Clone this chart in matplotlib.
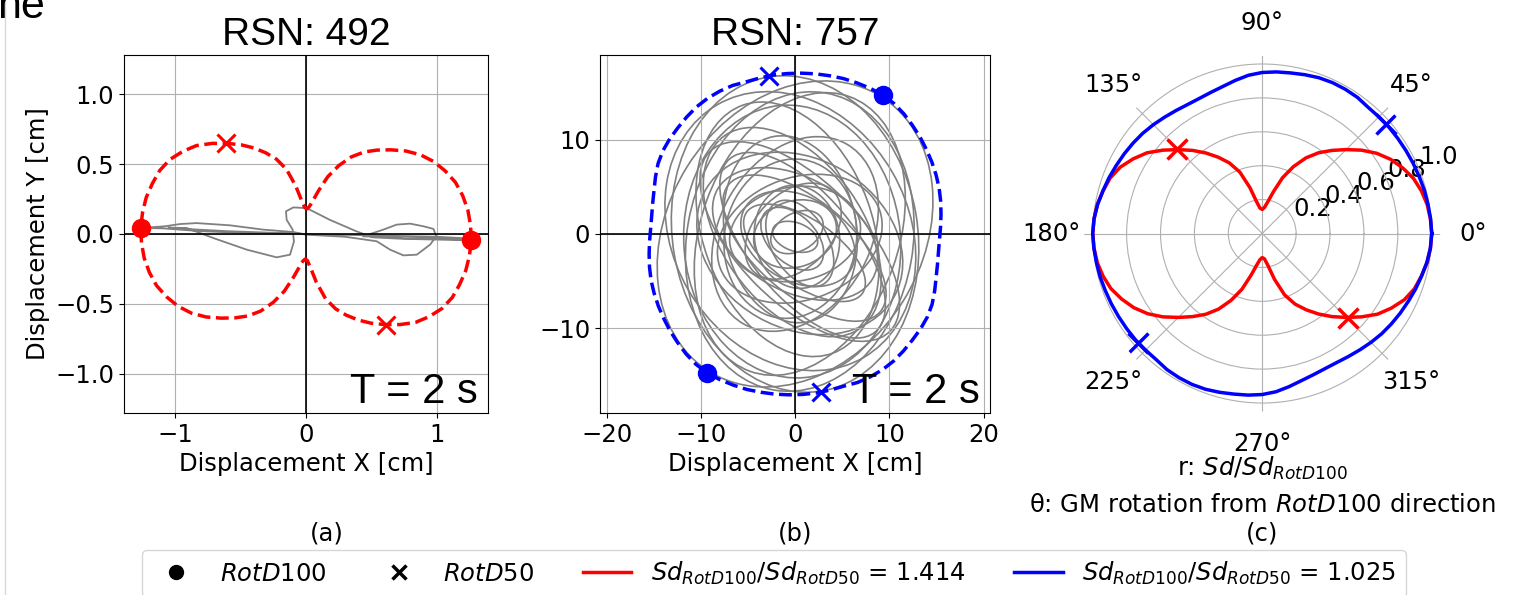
import numpy as np
import matplotlib.pyplot as plt
from matplotlib.patches import Ellipse
from matplotlib.lines import Line2D

plt.rcParams['font.family'] = ['DejaVu Sans']

# Sd(theta)/Sd_RotD100 read every 5 deg from 0 to 175 deg (the curve repeats every 180 deg)
theta_deg = np.arange(0, 180, 5)
ratio_492 = [1.00, 0.996, 0.988, 0.972, 0.95, 0.915, 0.875, 0.825, 0.765, 0.70,
             0.64, 0.582, 0.515, 0.435, 0.35, 0.255, 0.19, 0.155, 0.142, 0.15,
             0.19, 0.28, 0.385, 0.46, 0.52, 0.58, 0.64, 0.70, 0.765, 0.83,
             0.88, 0.925, 0.955, 0.972, 0.988, 0.996]
ratio_757 = [1.00, 0.997, 0.993, 0.99, 0.985, 0.982, 0.979, 0.977, 0.976, 0.973,
             0.972, 0.98, 0.982, 0.982, 0.978, 0.97, 0.962, 0.957, 0.95, 0.937,
             0.917, 0.898, 0.886, 0.879, 0.879, 0.886, 0.896, 0.908, 0.92, 0.93,
             0.94, 0.95, 0.962, 0.973, 0.986, 0.996]

# RotD100 amplitude [cm], RotD100 direction [deg], RotD100/RotD50, RotD50 angle in polar frame [deg]
rotd100_492, dir_492, rot_ratio_492, rot50_ang_492 = 1.263, -2.1, 1.414, 135.5
rotd100_757, dir_757, rot_ratio_757, rot50_ang_757 = 17.45, 57.8, 1.025, 41.5

# displacement orbit of RSN 492 [cm]
orbit_x_492 = [0.0, -0.3, -0.6, -0.9, -1.05, -0.912, -0.708, -0.453, -0.224, -0.122,
               -0.092, -0.102, -0.148, -0.153, -0.097, 0.005, 0.18, 0.385, 0.51, 0.75,
               1.0, 1.26, 1.1, 0.95, 0.75, 0.6, 0.436, 0.59, 0.693, 0.795,
               0.897, 0.974, 0.994, 0.948, 0.846, 0.744, 0.642, 0.54, 0.3, 0.0,
               -0.097, -0.326, -0.581, -0.836, -0.963, -1.078, -1.26, -1.09, -0.8, -0.4,
               0.0, 0.5, 1.0, 1.2]
orbit_y_492 = [0.0, 0.01, 0.02, 0.035, 0.045, 0.043, -0.029, -0.112, -0.167, -0.148,
               -0.053, 0.031, 0.102, 0.162, 0.19, 0.185, 0.102, 0.019, -0.024, -0.035,
               -0.04, -0.046, -0.035, -0.03, -0.03, -0.02, -0.017, 0.031, 0.067, 0.074,
               0.055, 0.036, -0.017, -0.076, -0.148, -0.153, -0.112, -0.052, -0.02, -0.005,
               0.014, 0.031, 0.062, 0.078, 0.071, 0.055, 0.043, 0.04, 0.02, 0.005,
               0.0, -0.01, -0.02, -0.03]

# orbit loops of RSN 757 [cm]: centre, semi-axes, tilt [deg]
loop_cx = [0.0, 0.0, 0.5, -0.5, 0.5, -0.3, 0.5, -0.3, 0.5, 0.0, -0.5, 0.5, 1.0,
           -0.5, 0.0, 0.0, 0.3, -0.2, 0.2, 0.5, 0.0, -0.3, 0.2, 0.0, 1.0, -0.8, 0.8]
loop_cy = [0.0, 0.0, -0.8, 0.3, 0.0, -0.8, -0.8, 0.2, -1.0, 0.0, 0.5, -0.5, -1.5,
           -0.5, 0.0, 0.0, -0.5, 0.3, -0.3, -1.0, 0.0, -0.5, 0.2, -0.3, -2.0, 0.5, -1.2]
loop_a = [17.2, 16.9, 16.0, 15.5, 15.5, 14.5, 13.5, 12.5, 11.5, 11.0, 10.0, 9.0, 10.5,
          8.5, 9.5, 7.0, 6.5, 6.0, 5.5, 5.0, 4.5, 4.0, 3.0, 2.5, 7.5, 14.0, 12.0]
loop_b = [13.5, 13.0, 12.0, 12.5, 10.5, 11.5, 6.5, 7.5, 9.0, 8.0, 7.0, 6.5, 5.0,
          7.0, 6.0, 5.0, 4.5, 4.0, 4.5, 3.0, 3.5, 2.5, 2.0, 1.5, 3.5, 9.0, 5.5]
loop_tilt = [58, 100, 80, 120, 70, 95, -45, -55, -30, 60, 100, 20, -40,
             80, 150, 10, -30, 45, 100, -60, 20, -45, 30, -20, -35, 110, -50]

dpi = 100
fig = plt.figure(figsize=(1516 / dpi, 595 / dpi), dpi=dpi)
ax1 = fig.add_axes([0.0818, 0.3059, 0.2401, 0.6017])
ax2 = fig.add_axes([0.3958, 0.3059, 0.2573, 0.6017])
ax3 = fig.add_axes([0.7152, 0.3084, 0.2348, 0.5983], projection='polar')

fs = 17.5
th = np.deg2rad(np.r_[theta_deg, theta_deg + 180, 360])
r_492 = np.array(ratio_492 + ratio_492 + ratio_492[:1])
r_757 = np.array(ratio_757 + ratio_757 + ratio_757[:1])


def orbit_panel(ax, r, rotd100, direction, rot_ratio, rot50_ang, color, lim_x, lim_y):
    ang = th + np.deg2rad(direction)
    ax.plot(rotd100 * r * np.cos(ang), rotd100 * r * np.sin(ang), '--', color=color, lw=2.5, zorder=4)
    d100 = np.deg2rad([direction, direction + 180])
    ax.plot(rotd100 * np.cos(d100), rotd100 * np.sin(d100), 'o', color=color, ms=13, zorder=5)
    d50 = np.deg2rad([rot50_ang + direction, rot50_ang + direction + 180])
    r50 = rotd100 / rot_ratio
    ax.plot(r50 * np.cos(d50), r50 * np.sin(d50), 'x', color=color, ms=13, mew=2.2, zorder=5)
    ax.axhline(0, color='k', lw=1.2)
    ax.axvline(0, color='k', lw=1.2)
    ax.grid(True, color='#b0b0b0')
    ax.set_xlim(-lim_x, lim_x)
    ax.set_ylim(-lim_y, lim_y)
    ax.tick_params(labelsize=fs)
    ax.set_xlabel('Displacement X [cm]', fontsize=fs)
    ax.text(0.973, 0.028, 'T = 2 s', transform=ax.transAxes, ha='right', va='baseline',
            fontsize=30, family='Liberation Sans', zorder=6)


# (a) RSN 492
ax1.plot(orbit_x_492, orbit_y_492, color='grey', lw=1.3)
orbit_panel(ax1, r_492, rotd100_492, dir_492, rot_ratio_492, rot50_ang_492, 'red', 1.39, 1.28)
ax1.set_xticks([-1, 0, 1])
ax1.set_yticks([-1.0, -0.5, 0.0, 0.5, 1.0])
ax1.set_ylabel('Displacement Y [cm]', fontsize=fs)
ax1.set_title('RSN: 492', fontsize=28, family='Liberation Sans', pad=7)

# (b) RSN 757
for cx, cy, a, b, t in zip(loop_cx, loop_cy, loop_a, loop_b, loop_tilt):
    ax2.add_patch(Ellipse((cx, cy), 2 * a, 2 * b, angle=t, fill=False, ec='grey', lw=1.2))
orbit_panel(ax2, r_757, rotd100_757, dir_757, rot_ratio_757, rot50_ang_757, 'blue', 20.7, 19.0)
ax2.set_xticks([-20, -10, 0, 10, 20])
ax2.set_yticks([-10, 0, 10])
ax2.set_title('RSN: 757', fontsize=28, family='Liberation Sans', pad=7)

# (c) polar
ax3.plot(th, r_492, color='red', lw=2.5)
ax3.plot(th, r_757, color='blue', lw=2.5)
for ang, rr, c in [(rot50_ang_492, 1 / rot_ratio_492, 'red'), (rot50_ang_757, 1 / rot_ratio_757, 'blue')]:
    ax3.plot(np.deg2rad([ang, ang + 180]), [rr, rr], 'x', color=c, ms=14, mew=2.5)
ax3.set_rlim(0, 1.05)
ax3.set_rticks([0.2, 0.4, 0.6, 0.8, 1.0])
ax3.set_thetagrids(range(0, 360, 45))
ax3.spines['polar'].set_visible(False)
ax3.grid(True, color='#b0b0b0')
ax3.tick_params(labelsize=fs)
ax3.tick_params(axis='x', pad=13)

fig.text(1262 / 1516, 1 - 468 / 595, 'r: $Sd/Sd_{RotD100}$', ha='center', va='center', fontsize=fs)
fig.text(1262 / 1516, 1 - 505 / 595, 'θ: GM rotation from $RotD$100 direction', ha='center', va='center', fontsize=fs)
for x, s in [(327, '(a)'), (795, '(b)'), (1262, '(c)')]:
    fig.text(x / 1516, 1 - 533 / 595, s, ha='center', va='center', fontsize=fs)

handles = [
    Line2D([], [], marker='o', color='k', ls='none', ms=10, label='$RotD$100'),
    Line2D([], [], marker='x', color='k', ls='none', ms=10, mew=2.5, label='$RotD$50'),
    Line2D([], [], color='red', lw=2.5, label='$Sd_{RotD100}/Sd_{RotD50}$ = %.3f' % rot_ratio_492),
    Line2D([], [], color='blue', lw=2.5, label='$Sd_{RotD100}/Sd_{RotD50}$ = %.3f' % rot_ratio_757),
]
fig.legend(handles=handles, loc='upper center', bbox_to_anchor=(774 / 1516, 1 - 538 / 595), ncol=4,
           fontsize=fs, frameon=True)

# clipped text and page border from the source document
fig.text(-0.002, 1 - 18 / 595, 'ne', fontsize=31, family='Liberation Sans', va='baseline')
fig.add_artist(Line2D([5 / 1516, 5 / 1516], [0, 1], color='#d8d8d8', lw=1))

fig.savefig('out.png', dpi=dpi)
